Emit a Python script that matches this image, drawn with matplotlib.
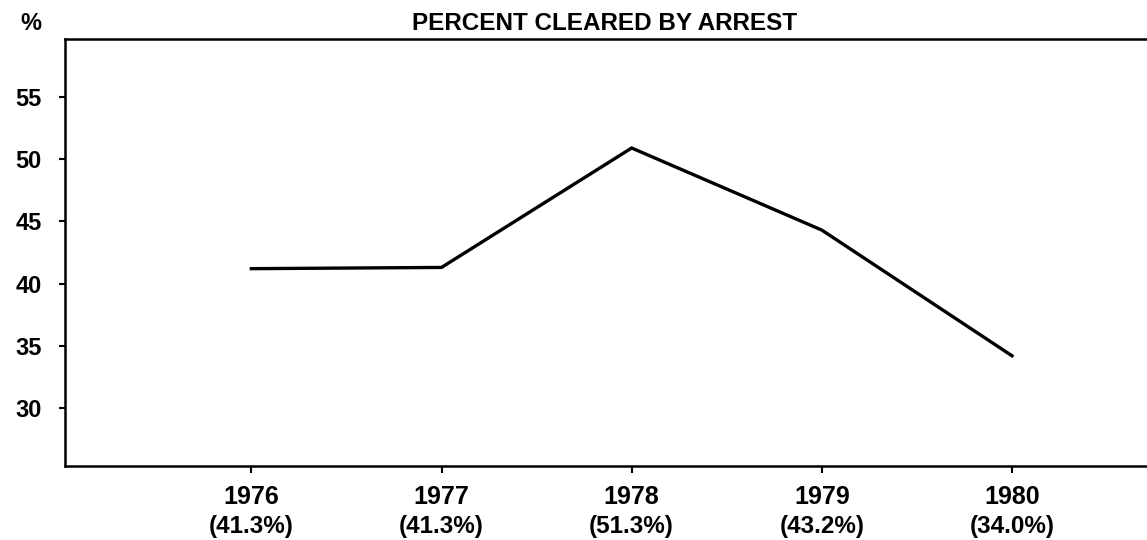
import matplotlib
matplotlib.use('Agg')
import matplotlib.pyplot as plt
from matplotlib import transforms

plt.rcParams['font.family'] = ['Liberation Sans', 'DejaVu Sans']

# data
years = [1976, 1977, 1978, 1979, 1980]
line_values = [41.2, 41.3, 50.9, 44.3, 34.2]
pct_labels = ['(41.3%)', '(41.3%)', '(51.3%)', '(43.2%)', '(34.0%)']
y_ticks = [30, 35, 40, 45, 50, 55]

fig = plt.figure(figsize=(11.47, 5.40), dpi=100)
ax = fig.add_axes([65 / 1147, 1 - 466 / 540, 1 - 65 / 1147, (466 - 39) / 540])

ax.plot(years, line_values, color='black', linewidth=2.4, solid_joinstyle='miter')

ax.set_xlim(1975.02, 1980.71)
ax.set_ylim(25.34, 59.66)

ax.spines['right'].set_visible(False)
for s in ['left', 'bottom', 'top']:
    ax.spines[s].set_linewidth(1.8)

ax.set_yticks(y_ticks)
ax.set_yticklabels([str(v) for v in y_ticks], fontsize=17, fontweight='bold')
ax.tick_params(axis='y', direction='out', length=4, width=1.5, pad=13)

ax.set_xticks(years)
ax.set_xticklabels([])
ax.tick_params(axis='x', direction='out', length=5, width=1.5)

trans = transforms.blended_transform_factory(ax.transData, fig.transFigure)
for yr, lab in zip(years, pct_labels):
    ax.text(yr, 1 - 497 / 540, str(yr), transform=trans, ha='center', va='center',
            fontsize=18, fontweight='bold')
    ax.text(yr, 1 - 527 / 540, lab, transform=trans, ha='center', va='center',
            fontsize=17.5, fontweight='bold')

fig.text(605 / 1147, 1 - 23 / 540, 'PERCENT CLEARED BY ARREST', ha='center', va='center',
         fontsize=17.5, fontweight='bold')
fig.text(31 / 1147, 1 - 24 / 540, '%', ha='center', va='center',
         fontsize=17, fontweight='bold')

fig.savefig('out.png', dpi=100)
